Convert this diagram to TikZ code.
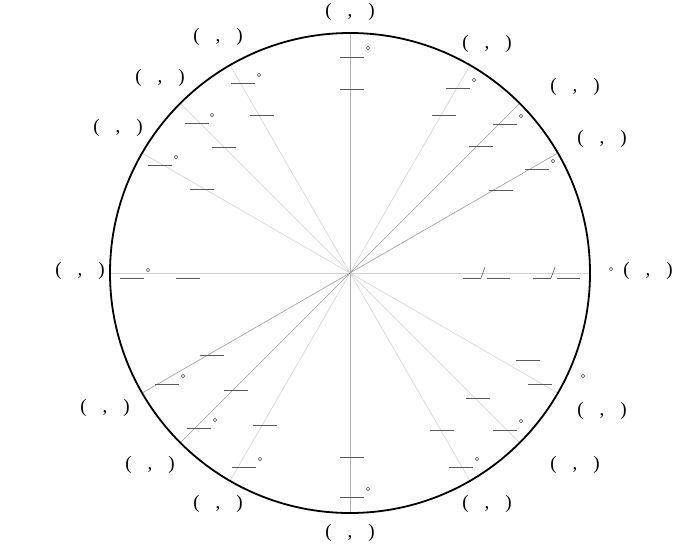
\documentclass[tikz,border=0pt]{standalone}
\usepackage{fontspec}
\setmainfont{Liberation Serif}
\usepackage{tikz}
\begin{document}
\begin{tikzpicture}[x=1pt,y=-1pt,
	spoke/.style={gray!35,line width=.6pt},
	darkspoke/.style={gray!80,line width=.6pt},
	blank/.style={gray!70!black,line width=.6pt},
	pair/.style={font=\fontsize{19}{19}\selectfont,inner sep=0pt}]
	\useasboundingbox (0,0) rectangle (700,550);
	\coordinate (O) at (350,273);

	% spokes
	\foreach \a in {0,60,90,120,135,150,180,240,270,300,315,330}
		\draw[spoke] (O) -- ++(\a:240 and -240);
	\draw[gray!60,line width=.6pt] (O) -- (350,33) (O) -- (350,513);
	\foreach \a in {30,45,210,225}
		\draw[darkspoke] (O) -- ++(\a:240 and -240);

	\draw[line width=1.8pt] (O) circle (240);

	% coordinate pairs
	\foreach \x/\y [count=\i] in {350/12,487/44,575/87,602/139,648/271,
		602/411,575/465,487/504,350/533,218/504,150/465,105/408,
		80/271,118/128,160/78,218/37}
		\node[pair] (p\i) at (\x,\y) {(\hspace{16pt},\hspace{16pt})};

	% blanks
	\foreach \x/\y in {352/57,352/89,458/88,444/115,505/124,481/146,
		537/169,501/190,132/278,188/278,243/83,262/115,197/123,224/147,
		160/165,202/189,167/384,212/355,199/428,236/390,244/467,265/425,
		352/497,352/457,461/467,442/430,505/430,478/398,540/384,528/360}
		\draw[blank] (\x-12,\y) -- (\x+12,\y);
	% degree marks
	\foreach \x/\y in {368/48,474/80,521/116,553/161,611/269,148/270,
		259/75,212/115,176/157,183/376,215/420,260/459,368/489,477/459,
		521/421,583/376}
		\draw[gray!60!black,line width=.5pt] (\x,\y) circle (1.8);
	% fractions on the zero spoke
	\foreach \x in {463,533}{
		\draw[blank] (\x,278) -- (\x+18,278) (\x+24,278) -- (\x+47,278);
		\draw[blank] (\x+18,278) -- (\x+22,267);
	}
\end{tikzpicture}
\end{document}
